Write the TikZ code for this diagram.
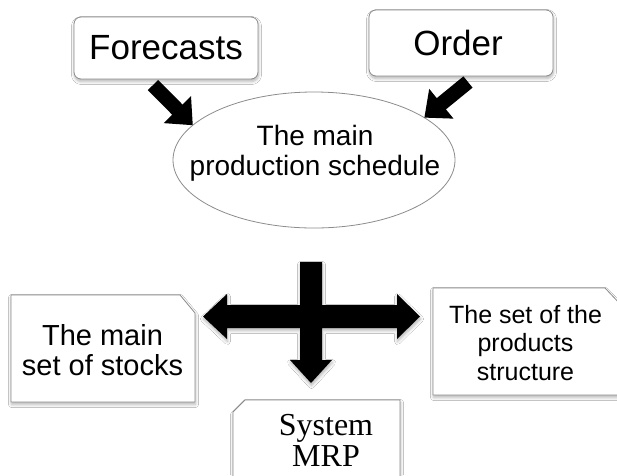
\documentclass[tikz,border=0pt]{standalone}
\usepackage{fontspec}
\setmainfont{Liberation Sans}
\newfontfamily\mrpserif{Liberation Serif}
\usetikzlibrary{arrows.meta,shapes.geometric,shadows.blur}
\definecolor{edgegray}{HTML}{8C8C8C}
\begin{document}
\begin{tikzpicture}[x=1pt,y=-1pt,
  softshadow/.style={blur shadow={shadow xshift=0.5pt,shadow yshift=-2.5pt,
      shadow blur steps=6,shadow blur radius=3pt,shadow opacity=30}},
  topbox/.style={draw=edgegray,line width=0.8pt,fill=white,rounded corners=7pt,
      minimum width=184pt,inner sep=0pt,outer sep=0pt,softshadow,
      font=\fontsize{35}{38}\selectfont},
  frame/.style={inner sep=0pt,outer sep=0pt},
  notebox/.style={draw=edgegray,line width=0.8pt,fill=white,softshadow},
  boxtext/.style={align=center,anchor=north,inner sep=0pt,outer sep=0pt},
  flowarrow/.style={line width=14.5pt,-{Triangle[length=22pt,width=37pt]},black},
  crossarrow/.style={fill=black,softshadow}]
  % page
  \fill[white] (0,0) rectangle (617,475);
  \clip (0,0) rectangle (617,475);
  \useasboundingbox (0,0) rectangle (617,475);

  % inputs
  \node[topbox,minimum height=62pt] (fc) at (166,48) {Forecasts};
  \node[topbox,minimum height=66pt,text depth=0pt] (ord) at (461,43) {\hspace*{-6pt}Order};

  % master schedule
  \node[ellipse,draw=edgegray,line width=0.8pt,fill=white,minimum width=282pt,
        minimum height=136pt,inner sep=0pt,outer sep=0pt] (ms) at (314,160) {};
  \node[boxtext,font=\fontsize{28}{30}\selectfont] (mstext) at (315,125)
        {The main\\production schedule};

  \draw[flowarrow] ([xshift=-13pt,yshift=-6pt]fc.south) -- (ms.164);
  \draw[flowarrow] ([xshift=7pt,yshift=-6pt]ord.south) -- (ms.21);

  % stocks
  \node[frame,minimum width=184pt,minimum height=107pt] (stocks) at (103,348.5) {};
  \path[notebox] (stocks.north west) -- ([xshift=-15pt]stocks.north east)
    -- ([yshift=-18pt]stocks.north east) -- (stocks.south east)
    -- (stocks.south west) -- cycle;
  \node[boxtext,font=\fontsize{29}{30}\selectfont] (stockstext) at (102.5,324)
        {The main\\set of stocks};

  % product structure
  \node[frame,minimum width=189pt,minimum height=107pt] (struct) at (527.5,341.5) {};
  \path[notebox] (struct.north west) -- ([xshift=-17pt]struct.north east)
    -- ([yshift=-18pt]struct.north east) -- (struct.south east)
    -- (struct.south west) -- cycle;
  \node[boxtext,font=\fontsize{25}{28.5}\selectfont] (structtext) at (525.5,305)
        {The set of the\\products\\structure};

  % MRP
  \node[frame,minimum width=167pt,minimum height=95pt] (mrp) at (316.5,447.5) {};
  \path[notebox] ([yshift=-12pt]mrp.north west) -- ([xshift=12pt]mrp.north west)
    -- (mrp.north east) -- (mrp.south east) -- (mrp.south west) -- cycle;
  \node[boxtext,font=\mrpserif\fontsize{32}{31}\selectfont] (mrptext) at (326,414)
        {System\\MRP};

  % distribution cross
  \coordinate (hub) at (311,316.5);
  \path[crossarrow,shift={(hub)}]
    (-11,-54.5) -- (11,-54.5) -- (11,-11.5) -- (86,-11.5) -- (86,-22.5)
    -- (109,0) -- (86,22.5) -- (86,11.5) -- (11,11.5) -- (11,43.5)
    -- (21,43.5) -- (0,66.5) -- (-21,43.5) -- (-11,43.5) -- (-11,11.5)
    -- (-84,11.5) -- (-84,22.5) -- (-108,0) -- (-84,-22.5) -- (-84,-11.5)
    -- (-11,-11.5) -- cycle;
\end{tikzpicture}
\end{document}
